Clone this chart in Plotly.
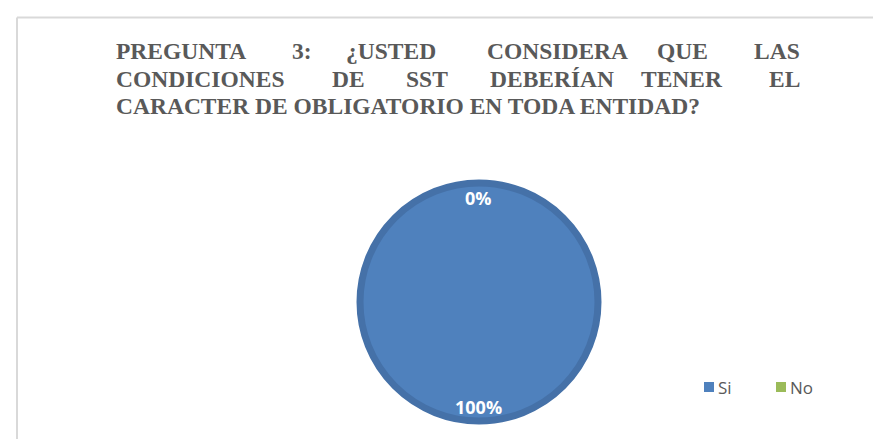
import plotly.graph_objects as go

categories = ["Si", "No"]
values = [100, 0]
colors = ["#4F81BD", "#9BBB59"]

title_lines = [
    ["PREGUNTA", "3:", "¿USTED", "CONSIDERA", "QUE", "LAS"],
    ["CONDICIONES", "DE", "SST", "DEBERÍAN", "TENER", "EL"],
    ["CARACTER DE OBLIGATORIO EN TODA ENTIDAD?"],
]
# horizontal pixel anchor of each word (justified title): first left, last right, others centre
word_x = [
    [106, 294, 383, 549.5, 674.5, 794],
    [106, 340.5, 418.5, 544, 673.5, 794],
    [106],
]
line_y = [43, 70.5, 98]

W, H = 881, 439
cx, cy, r = 471, 294, 119

fig = go.Figure()
fig.add_trace(go.Pie(
    labels=categories, values=values, sort=False, direction="clockwise",
    rotation=0,
    marker=dict(colors=colors, line=dict(color=["#4571A8", "#8AA84F"], width=[7, 0])),
    textinfo="none", hoverinfo="label+percent",
    domain=dict(x=[(cx - r) / W, (cx + r) / W], y=[(H - cy - r) / H, (H - cy + r) / H]),
    showlegend=False,
))

annotations = []
for words, xs, y in zip(title_lines, word_x, line_y):
    n = len(words)
    for i, (w, x) in enumerate(zip(words, xs)):
        if i == 0:
            anchor = "left"
        elif i == n - 1:
            anchor = "right"
        else:
            anchor = "center"
        annotations.append(dict(
            text=f"<b>{w}</b>", x=x / W, y=1 - y / H, xref="paper", yref="paper",
            xanchor=anchor, yanchor="middle", showarrow=False,
            font=dict(family="Liberation Serif", size=23.5, color="#595959"),
        ))

total = sum(values)
pcts = [round(v / total * 100) for v in values]
# label positions: "No" (0%) at top, "Si" (100%) at bottom
label_pos = {"No": 190, "Si": 399}
for cat, p in zip(categories, pcts):
    annotations.append(dict(
        text=f"<b>{p}%</b>", x=cx / W, y=1 - label_pos[cat] / H,
        xref="paper", yref="paper", xanchor="center", yanchor="middle",
        showarrow=False, font=dict(family="Open Sans", size=18, color="white"),
    ))

shapes = [
    dict(type="line", xref="paper", yref="paper", x0=9 / W, x1=1.01, y0=1 - 9.5 / H, y1=1 - 9.5 / H,
         line=dict(color="#D9D9D9", width=2)),
    dict(type="line", xref="paper", yref="paper", x0=9 / W, x1=9 / W, y0=1 - 9.5 / H, y1=-0.01,
         line=dict(color="#D9D9D9", width=2)),
]

# custom legend (swatch + label)
legend_x = [696, 768]
legend_y = 379
for cat, col, lx in zip(categories, colors, legend_x):
    shapes.append(dict(type="rect", xref="paper", yref="paper",
                       x0=lx / W, x1=(lx + 10) / W, y0=1 - (legend_y + 5) / H, y1=1 - (legend_y - 5) / H,
                       fillcolor=col, line=dict(width=0)))
    annotations.append(dict(text=cat, x=(lx + 12) / W, y=1 - legend_y / H, xref="paper", yref="paper",
                            xanchor="left", yanchor="middle", showarrow=False,
                            font=dict(family="Open Sans", size=17, color="#595959")))

fig.update_layout(
    width=W, height=H, margin=dict(l=0, r=0, t=0, b=0),
    paper_bgcolor="white", plot_bgcolor="white",
    annotations=annotations, shapes=shapes,
)

fig.write_html("out.html")
